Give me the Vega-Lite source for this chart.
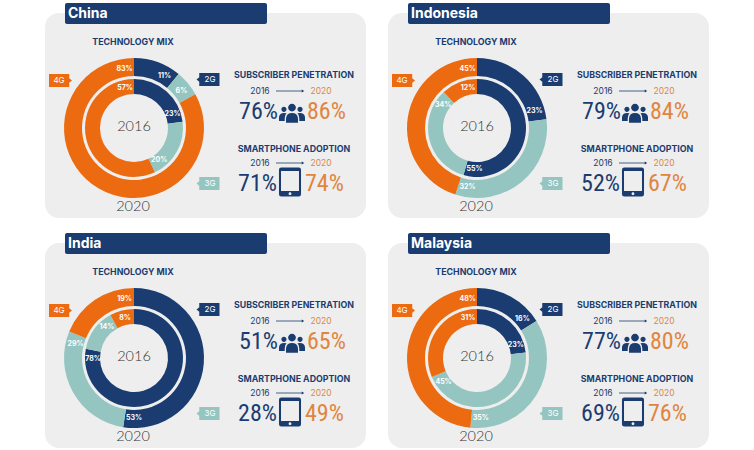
{
"$schema":"https://vega.github.io/schema/vega-lite/v6.json",
"padding":{"left":45,"top":3,"right":0,"bottom":0},
"background":"#ffffff",
"config":{"view":{"stroke":null},"text":{"font":"Lato"}},
"data":{"values":[
{"country":"China","kind":"panel"},
{"country":"Indonesia","kind":"panel"},
{"country":"India","kind":"panel"},
{"country":"Malaysia","kind":"panel"},
{"country":"China","kind":"segment","year":2016,"tech":"2G","share":23},
{"country":"China","kind":"segment","year":2016,"tech":"3G","share":20},
{"country":"China","kind":"segment","year":2016,"tech":"4G","share":57},
{"country":"China","kind":"segment","year":2020,"tech":"2G","share":11},
{"country":"China","kind":"segment","year":2020,"tech":"3G","share":6},
{"country":"China","kind":"segment","year":2020,"tech":"4G","share":83},
{"country":"Indonesia","kind":"segment","year":2016,"tech":"2G","share":55},
{"country":"Indonesia","kind":"segment","year":2016,"tech":"3G","share":34},
{"country":"Indonesia","kind":"segment","year":2016,"tech":"4G","share":12},
{"country":"Indonesia","kind":"segment","year":2020,"tech":"2G","share":23},
{"country":"Indonesia","kind":"segment","year":2020,"tech":"3G","share":32},
{"country":"Indonesia","kind":"segment","year":2020,"tech":"4G","share":45},
{"country":"India","kind":"segment","year":2016,"tech":"2G","share":78},
{"country":"India","kind":"segment","year":2016,"tech":"3G","share":14},
{"country":"India","kind":"segment","year":2016,"tech":"4G","share":8},
{"country":"India","kind":"segment","year":2020,"tech":"2G","share":53},
{"country":"India","kind":"segment","year":2020,"tech":"3G","share":29},
{"country":"India","kind":"segment","year":2020,"tech":"4G","share":19},
{"country":"Malaysia","kind":"segment","year":2016,"tech":"2G","share":23},
{"country":"Malaysia","kind":"segment","year":2016,"tech":"3G","share":45},
{"country":"Malaysia","kind":"segment","year":2016,"tech":"4G","share":31},
{"country":"Malaysia","kind":"segment","year":2020,"tech":"2G","share":16},
{"country":"Malaysia","kind":"segment","year":2020,"tech":"3G","share":35},
{"country":"Malaysia","kind":"segment","year":2020,"tech":"4G","share":48},
{"country":"China","kind":"stat","metric":"subscriber","v16":76,"v20":86},
{"country":"China","kind":"stat","metric":"smartphone","v16":71,"v20":74},
{"country":"Indonesia","kind":"stat","metric":"subscriber","v16":79,"v20":84},
{"country":"Indonesia","kind":"stat","metric":"smartphone","v16":52,"v20":67},
{"country":"India","kind":"stat","metric":"subscriber","v16":51,"v20":65},
{"country":"India","kind":"stat","metric":"smartphone","v16":28,"v20":49},
{"country":"Malaysia","kind":"stat","metric":"subscriber","v16":77,"v20":80},
{"country":"Malaysia","kind":"stat","metric":"smartphone","v16":69,"v20":76}
]},
"transform":[
{"stack":"share","groupby":["country","year"],"sort":[{"field":"tech","order":"ascending"}],"offset":"normalize","as":["s0","s1"]},
{"calculate":"max((datum.s0+datum.s1)/2,datum.s1-(datum.year===2020?0.025:0.035))","as":"labelAt"},
{"calculate":"datum.share+'%'","as":"shareText"},
{"calculate":"datum.v16+'%'","as":"t16"},
{"calculate":"datum.v20+'%'","as":"t20"}
],
"columns":2,
"spacing":{"row":15,"column":22},
"facet":{"field":"country","type":"nominal","header":{"title":null,"labelExpr":"''","labelFontSize":0,"labelColor":"transparent","labelPadding":0,"titlePadding":0},"sort":["China","Indonesia","India","Malaysia"]},
"spec":{
"width":321,"height":215,
"layer":[
{"transform":[{"filter":"datum.kind==='panel'"}],"mark":{"type":"rect","color":"#EEEEEE","cornerRadius":14},
 "encoding":{"x":{"datum":0,"type":"quantitative","scale":{"domain":[0,321]},"axis":null},"x2":{"datum":321},"y":{"datum":10,"type":"quantitative","scale":{"domain":[0,215],"reverse":true},"axis":null},"y2":{"datum":215}}},
{"transform":[{"filter":"datum.kind==='panel'"}],"mark":{"type":"rect","color":"#1A3C70","cornerRadius":2},
 "encoding":{"x":{"datum":20,"type":"quantitative","scale":{"domain":[0,321]},"axis":null},"x2":{"datum":222},"y":{"datum":0,"type":"quantitative","scale":{"domain":[0,215],"reverse":true},"axis":null},"y2":{"datum":21}}},
{"transform":[{"filter":"datum.kind==='panel'"}],"mark":{"type":"text","align":"left","baseline":"middle","color":"#ffffff","font":"Inter","fontWeight":"bold","fontSize":14},
 "encoding":{"text":{"field":"country"},"x":{"datum":23,"type":"quantitative","scale":{"domain":[0,321]},"axis":null},"y":{"datum":11,"type":"quantitative","scale":{"domain":[0,215],"reverse":true},"axis":null}}},
{"transform":[{"filter":"datum.kind==='panel'"}],"mark":{"type":"text","text":"TECHNOLOGY MIX","align":"center","baseline":"middle","color":"#1A3C70","font":"Inter","fontWeight":"bold","fontSize":8.8},
 "encoding":{"x":{"datum":88,"type":"quantitative","scale":{"domain":[0,321]},"axis":null},"y":{"datum":39,"type":"quantitative","scale":{"domain":[0,215],"reverse":true},"axis":null}}},
{"transform":[{"filter":"datum.year===2020"}],"mark":{"type":"arc","radius":70,"radius2":52},
 "encoding":{"theta":{"field":"s0","type":"quantitative","scale":{"domain":[0,1],"range":[0,6.2832]},"stack":null},"theta2":{"field":"s1"},"color":{"field":"tech","type":"nominal","scale":{"domain":["2G","3G","4G"],"range":["#1A3C70","#95C5C0","#EC6A10"]},"legend":null},"x":{"datum":89,"type":"quantitative","scale":{"domain":[0,321]},"axis":null},"y":{"datum":125,"type":"quantitative","scale":{"domain":[0,215],"reverse":true},"axis":null}}},
{"transform":[{"filter":"datum.year===2016"}],"mark":{"type":"arc","radius":49,"radius2":34},
 "encoding":{"theta":{"field":"s0","type":"quantitative","scale":{"domain":[0,1],"range":[0,6.2832]},"stack":null},"theta2":{"field":"s1"},"color":{"field":"tech","type":"nominal","legend":null},"x":{"datum":89,"type":"quantitative","scale":{"domain":[0,321]},"axis":null},"y":{"datum":125,"type":"quantitative","scale":{"domain":[0,215],"reverse":true},"axis":null}}},
{"transform":[{"filter":"datum.year===2020"}],"mark":{"type":"text","radius":60,"align":"center","baseline":"middle","color":"#ffffff","font":"Inter","fontWeight":"bold","fontSize":7},
 "encoding":{"text":{"field":"shareText"},"theta":{"field":"labelAt","type":"quantitative","scale":{"domain":[0,1],"range":[0,6.2832]},"stack":null},"x":{"datum":89,"type":"quantitative","scale":{"domain":[0,321]},"axis":null},"y":{"datum":125,"type":"quantitative","scale":{"domain":[0,215],"reverse":true},"axis":null}}},
{"transform":[{"filter":"datum.year===2016"}],"mark":{"type":"text","radius":41,"align":"center","baseline":"middle","color":"#ffffff","font":"Inter","fontWeight":"bold","fontSize":7},
 "encoding":{"text":{"field":"shareText"},"theta":{"field":"labelAt","type":"quantitative","scale":{"domain":[0,1],"range":[0,6.2832]},"stack":null},"x":{"datum":89,"type":"quantitative","scale":{"domain":[0,321]},"axis":null},"y":{"datum":125,"type":"quantitative","scale":{"domain":[0,215],"reverse":true},"axis":null}}},
{"transform":[{"filter":"datum.kind==='panel'"}],"mark":{"type":"text","text":"2016","align":"center","baseline":"middle","color":"#333333","font":"Lato","fontWeight":300,"fontSize":14.5},
 "encoding":{"x":{"datum":89,"type":"quantitative","scale":{"domain":[0,321]},"axis":null},"y":{"datum":124,"type":"quantitative","scale":{"domain":[0,215],"reverse":true},"axis":null}}},
{"transform":[{"filter":"datum.kind==='panel'"}],"mark":{"type":"text","text":"2020","align":"center","baseline":"middle","color":"#333333","font":"Lato","fontWeight":300,"fontSize":14.5},
 "encoding":{"x":{"datum":88,"type":"quantitative","scale":{"domain":[0,321]},"axis":null},"y":{"datum":204,"type":"quantitative","scale":{"domain":[0,215],"reverse":true},"axis":null}}},
{"transform":[{"filter":"datum.kind==='panel'"}],"mark":{"type":"point","filled":true,"opacity":1,"size":529,"color":"#EC6A10","shape":"M-1 -0.56 H0.76 V-0.2 L1 0 L0.76 0.2 V0.56 H-1 Z"},
 "encoding":{"x":{"datum":15.5,"type":"quantitative","scale":{"domain":[0,321]},"axis":null},"y":{"datum":77.5,"type":"quantitative","scale":{"domain":[0,215],"reverse":true},"axis":null}}},
{"transform":[{"filter":"datum.kind==='panel'"}],"mark":{"type":"text","text":"4G","align":"center","baseline":"middle","color":"#ffffff","font":"Inter","fontSize":8},
 "encoding":{"x":{"datum":14,"type":"quantitative","scale":{"domain":[0,321]},"axis":null},"y":{"datum":77.5,"type":"quantitative","scale":{"domain":[0,215],"reverse":true},"axis":null}}},
{"transform":[{"filter":"datum.kind==='panel'"}],"mark":{"type":"point","filled":true,"opacity":1,"size":529,"color":"#1A3C70","shape":"M1 -0.56 H-0.76 V-0.2 L-1 0 L-0.76 0.2 V0.56 H1 Z"},
 "encoding":{"x":{"datum":163,"type":"quantitative","scale":{"domain":[0,321]},"axis":null},"y":{"datum":76.5,"type":"quantitative","scale":{"domain":[0,215],"reverse":true},"axis":null}}},
{"transform":[{"filter":"datum.kind==='panel'"}],"mark":{"type":"text","text":"2G","align":"center","baseline":"middle","color":"#ffffff","font":"Inter","fontSize":8},
 "encoding":{"x":{"datum":165,"type":"quantitative","scale":{"domain":[0,321]},"axis":null},"y":{"datum":76.5,"type":"quantitative","scale":{"domain":[0,215],"reverse":true},"axis":null}}},
{"transform":[{"filter":"datum.kind==='panel'"}],"mark":{"type":"point","filled":true,"opacity":1,"size":529,"color":"#95C5C0","shape":"M1 -0.56 H-0.76 V-0.2 L-1 0 L-0.76 0.2 V0.56 H1 Z"},
 "encoding":{"x":{"datum":163,"type":"quantitative","scale":{"domain":[0,321]},"axis":null},"y":{"datum":180.5,"type":"quantitative","scale":{"domain":[0,215],"reverse":true},"axis":null}}},
{"transform":[{"filter":"datum.kind==='panel'"}],"mark":{"type":"text","text":"3G","align":"center","baseline":"middle","color":"#ffffff","font":"Inter","fontSize":8},
 "encoding":{"x":{"datum":165,"type":"quantitative","scale":{"domain":[0,321]},"axis":null},"y":{"datum":180.5,"type":"quantitative","scale":{"domain":[0,215],"reverse":true},"axis":null}}},
{"transform":[{"filter":"datum.metric==='subscriber'"}],"mark":{"type":"text","text":"SUBSCRIBER PENETRATION","align":"center","baseline":"middle","color":"#1A3C70","font":"Inter","fontWeight":"bold","fontSize":8.8},
 "encoding":{"x":{"datum":249,"type":"quantitative","scale":{"domain":[0,321]},"axis":null},"y":{"datum":72,"type":"quantitative","scale":{"domain":[0,215],"reverse":true},"axis":null}}},
{"transform":[{"filter":"datum.metric==='smartphone'"}],"mark":{"type":"text","text":"SMARTPHONE ADOPTION","align":"center","baseline":"middle","color":"#1A3C70","font":"Inter","fontWeight":"bold","fontSize":8.8},
 "encoding":{"x":{"datum":249,"type":"quantitative","scale":{"domain":[0,321]},"axis":null},"y":{"datum":146,"type":"quantitative","scale":{"domain":[0,215],"reverse":true},"axis":null}}},
{"transform":[{"filter":"datum.metric==='subscriber'"}],"mark":{"type":"text","text":"2016","align":"center","baseline":"middle","color":"#1A3C70","font":"Inter","fontSize":8.5},
 "encoding":{"x":{"datum":215,"type":"quantitative","scale":{"domain":[0,321]},"axis":null},"y":{"datum":88,"type":"quantitative","scale":{"domain":[0,215],"reverse":true},"axis":null}}},
{"transform":[{"filter":"datum.metric==='subscriber'"}],"mark":{"type":"text","text":"2020","align":"center","baseline":"middle","color":"#E0853F","font":"Inter","fontSize":8.5},
 "encoding":{"x":{"datum":276,"type":"quantitative","scale":{"domain":[0,321]},"axis":null},"y":{"datum":88,"type":"quantitative","scale":{"domain":[0,215],"reverse":true},"axis":null}}},
{"transform":[{"filter":"datum.metric==='smartphone'"}],"mark":{"type":"text","text":"2016","align":"center","baseline":"middle","color":"#1A3C70","font":"Inter","fontSize":8.5},
 "encoding":{"x":{"datum":215,"type":"quantitative","scale":{"domain":[0,321]},"axis":null},"y":{"datum":160,"type":"quantitative","scale":{"domain":[0,215],"reverse":true},"axis":null}}},
{"transform":[{"filter":"datum.metric==='smartphone'"}],"mark":{"type":"text","text":"2020","align":"center","baseline":"middle","color":"#E0853F","font":"Inter","fontSize":8.5},
 "encoding":{"x":{"datum":276,"type":"quantitative","scale":{"domain":[0,321]},"axis":null},"y":{"datum":160,"type":"quantitative","scale":{"domain":[0,215],"reverse":true},"axis":null}}},
{"transform":[{"filter":"datum.metric==='subscriber'"}],"mark":{"type":"rule","color":"#1A3C70","strokeWidth":0.8},
 "encoding":{"x":{"datum":231,"type":"quantitative","scale":{"domain":[0,321]},"axis":null},"x2":{"datum":258},"y":{"datum":88,"type":"quantitative","scale":{"domain":[0,215],"reverse":true},"axis":null}}},
{"transform":[{"filter":"datum.metric==='smartphone'"}],"mark":{"type":"rule","color":"#1A3C70","strokeWidth":0.8},
 "encoding":{"x":{"datum":231,"type":"quantitative","scale":{"domain":[0,321]},"axis":null},"x2":{"datum":258},"y":{"datum":160,"type":"quantitative","scale":{"domain":[0,215],"reverse":true},"axis":null}}},
{"transform":[{"filter":"datum.metric==='subscriber'"}],"mark":{"type":"point","shape":"triangle-right","filled":true,"opacity":1,"size":8,"color":"#1A3C70"},
 "encoding":{"x":{"datum":258,"type":"quantitative","scale":{"domain":[0,321]},"axis":null},"y":{"datum":88,"type":"quantitative","scale":{"domain":[0,215],"reverse":true},"axis":null}}},
{"transform":[{"filter":"datum.metric==='smartphone'"}],"mark":{"type":"point","shape":"triangle-right","filled":true,"opacity":1,"size":8,"color":"#1A3C70"},
 "encoding":{"x":{"datum":258,"type":"quantitative","scale":{"domain":[0,321]},"axis":null},"y":{"datum":160,"type":"quantitative","scale":{"domain":[0,215],"reverse":true},"axis":null}}},
{"transform":[{"filter":"datum.metric==='subscriber'"}],"mark":{"type":"text","align":"right","baseline":"middle","color":"#1A3C70","font":"Roboto Condensed, DejaVu Sans Condensed, Roboto","fontSize":24},
 "encoding":{"text":{"field":"t16"},"x":{"datum":233,"type":"quantitative","scale":{"domain":[0,321]},"axis":null},"y":{"datum":109,"type":"quantitative","scale":{"domain":[0,215],"reverse":true},"axis":null}}},
{"transform":[{"filter":"datum.metric==='subscriber'"}],"mark":{"type":"text","align":"left","baseline":"middle","color":"#E0853F","font":"Roboto Condensed, DejaVu Sans Condensed, Roboto","fontSize":24},
 "encoding":{"text":{"field":"t20"},"x":{"datum":262,"type":"quantitative","scale":{"domain":[0,321]},"axis":null},"y":{"datum":109,"type":"quantitative","scale":{"domain":[0,215],"reverse":true},"axis":null}}},
{"transform":[{"filter":"datum.metric==='smartphone'"}],"mark":{"type":"text","align":"right","baseline":"middle","color":"#1A3C70","font":"Roboto Condensed, DejaVu Sans Condensed, Roboto","fontSize":24},
 "encoding":{"text":{"field":"t16"},"x":{"datum":232,"type":"quantitative","scale":{"domain":[0,321]},"axis":null},"y":{"datum":181,"type":"quantitative","scale":{"domain":[0,215],"reverse":true},"axis":null}}},
{"transform":[{"filter":"datum.metric==='smartphone'"}],"mark":{"type":"text","align":"left","baseline":"middle","color":"#E0853F","font":"Roboto Condensed, DejaVu Sans Condensed, Roboto","fontSize":24},
 "encoding":{"text":{"field":"t20"},"x":{"datum":260,"type":"quantitative","scale":{"domain":[0,321]},"axis":null},"y":{"datum":181,"type":"quantitative","scale":{"domain":[0,215],"reverse":true},"axis":null}}},
{"transform":[{"filter":"datum.metric==='subscriber'"}],"mark":{"type":"point","filled":true,"opacity":1,"size":676,"color":"#1A3C70","shape":"M-0.3 -0.42 A0.3 0.3 0 1 1 0.3 -0.42 A0.3 0.3 0 1 1 -0.3 -0.42 Z M-0.46 0.75 V0.4 Q-0.42 0 0 0 Q0.42 0 0.46 0.4 V0.75 Z M-0.82 -0.28 A0.2 0.2 0 1 1 -0.42 -0.28 A0.2 0.2 0 1 1 -0.82 -0.28 Z M-1 0.62 V0.3 Q-0.95 0 -0.62 0 L-0.42 0.02 Q-0.56 0.15 -0.56 0.4 V0.62 Z M0.42 -0.28 A0.2 0.2 0 1 1 0.82 -0.28 A0.2 0.2 0 1 1 0.42 -0.28 Z M1 0.62 V0.3 Q0.95 0 0.62 0 L0.42 0.02 Q0.56 0.15 0.56 0.4 V0.62 Z"},
 "encoding":{"x":{"datum":247,"type":"quantitative","scale":{"domain":[0,321]},"axis":null},"y":{"datum":110,"type":"quantitative","scale":{"domain":[0,215],"reverse":true},"axis":null}}},
{"transform":[{"filter":"datum.metric==='smartphone'"}],"mark":{"type":"point","filled":true,"opacity":1,"size":841,"color":"#1A3C70","shape":"M-0.6 -1 H0.6 Q0.76 -1 0.76 -0.84 V0.84 Q0.76 1 0.6 1 H-0.6 Q-0.76 1 -0.76 0.84 V-0.84 Q-0.76 -1 -0.6 -1 Z M-0.62 -0.76 V0.62 H0.62 V-0.76 Z M-0.1 0.81 A0.1 0.1 0 1 0 0.1 0.81 A0.1 0.1 0 1 0 -0.1 0.81 Z"},
 "encoding":{"x":{"datum":245,"type":"quantitative","scale":{"domain":[0,321]},"axis":null},"y":{"datum":179,"type":"quantitative","scale":{"domain":[0,215],"reverse":true},"axis":null}}}
]
}
}
